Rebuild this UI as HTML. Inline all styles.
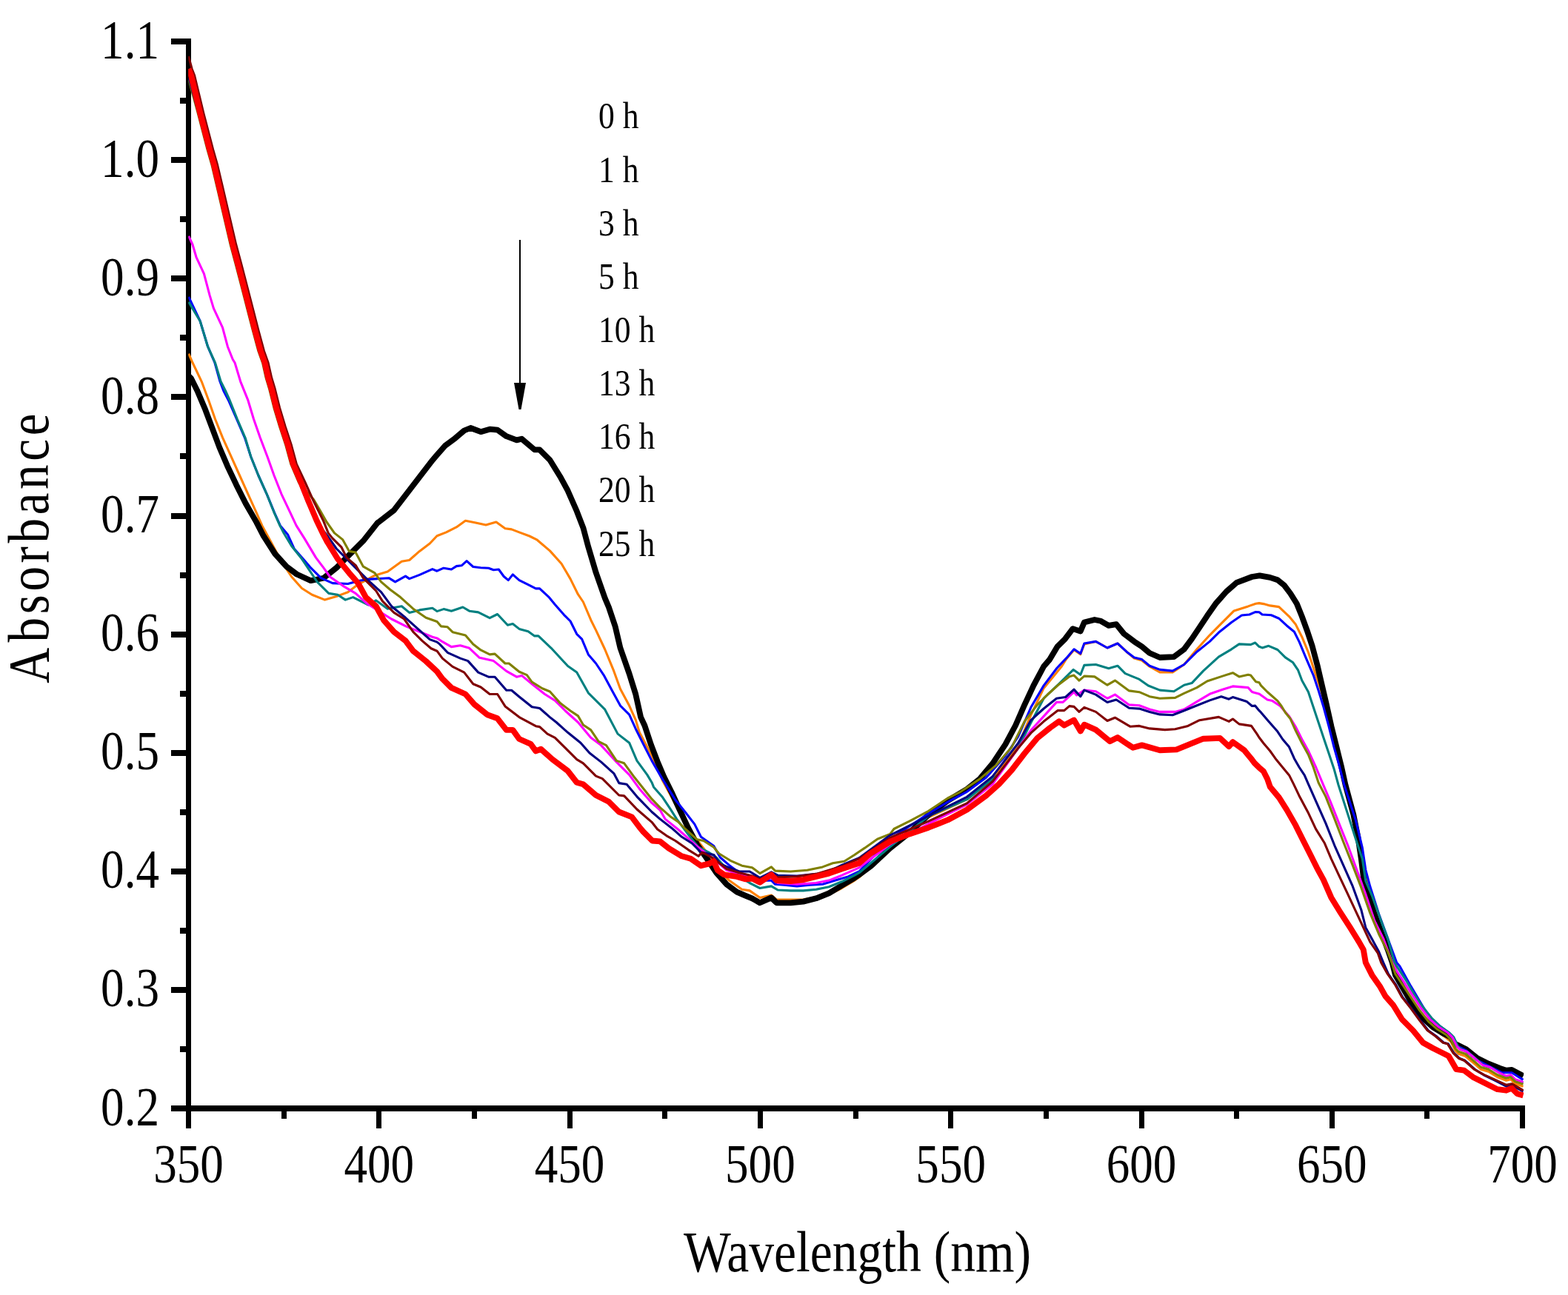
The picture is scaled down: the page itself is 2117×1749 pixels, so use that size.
<!DOCTYPE html>
<html><head><meta charset="utf-8"><title>Absorbance spectra</title>
<style>html,body{margin:0;padding:0;background:#fff;overflow:hidden}svg{display:block}</style>
</head><body>
<svg width="2117" height="1749" viewBox="0 0 2117 1749">
<rect width="2117" height="1749" fill="#fff"/>
<defs><clipPath id="pa"><rect x="254.2" y="0" width="1803" height="1497"/></clipPath></defs>
<rect x="251" y="52" width="7" height="1449" fill="#000"/>
<rect x="251" y="1493" width="1808" height="8" fill="#000"/>
<rect x="231" y="1493" width="22" height="8" fill="#000"/>
<rect x="243" y="1413" width="10" height="8" fill="#000"/>
<rect x="231" y="1333" width="22" height="8" fill="#000"/>
<rect x="243" y="1253" width="10" height="8" fill="#000"/>
<rect x="231" y="1173" width="22" height="8" fill="#000"/>
<rect x="243" y="1093" width="10" height="8" fill="#000"/>
<rect x="231" y="1013" width="22" height="8" fill="#000"/>
<rect x="243" y="933" width="10" height="8" fill="#000"/>
<rect x="231" y="853" width="22" height="8" fill="#000"/>
<rect x="243" y="773" width="10" height="8" fill="#000"/>
<rect x="231" y="693" width="22" height="8" fill="#000"/>
<rect x="243" y="612" width="10" height="8" fill="#000"/>
<rect x="231" y="532" width="22" height="8" fill="#000"/>
<rect x="243" y="452" width="10" height="8" fill="#000"/>
<rect x="231" y="372" width="22" height="8" fill="#000"/>
<rect x="243" y="292" width="10" height="8" fill="#000"/>
<rect x="231" y="212" width="22" height="8" fill="#000"/>
<rect x="243" y="132" width="10" height="8" fill="#000"/>
<rect x="231" y="52" width="22" height="8" fill="#000"/>
<rect x="251" y="1496" width="7" height="28" fill="#000"/>
<rect x="380" y="1496" width="7" height="15" fill="#000"/>
<rect x="508" y="1496" width="7" height="28" fill="#000"/>
<rect x="637" y="1496" width="7" height="15" fill="#000"/>
<rect x="766" y="1496" width="7" height="28" fill="#000"/>
<rect x="894" y="1496" width="7" height="15" fill="#000"/>
<rect x="1023" y="1496" width="7" height="28" fill="#000"/>
<rect x="1152" y="1496" width="7" height="15" fill="#000"/>
<rect x="1280" y="1496" width="7" height="28" fill="#000"/>
<rect x="1409" y="1496" width="7" height="15" fill="#000"/>
<rect x="1538" y="1496" width="7" height="28" fill="#000"/>
<rect x="1666" y="1496" width="7" height="15" fill="#000"/>
<rect x="1795" y="1496" width="7" height="28" fill="#000"/>
<rect x="1923" y="1496" width="7" height="15" fill="#000"/>
<rect x="2052" y="1496" width="7" height="28" fill="#000"/>
<g clip-path="url(#pa)"><g fill="none" stroke-linejoin="round" stroke-linecap="butt" transform="scale(1,1.0)">
<path d="M254.7,477.70 L260.1,490.00 L272.2,515.30 L281.7,540.70 L290.5,566.00 L300.7,591.30 L312.1,616.70 L323.5,642.00 L334.9,667.30 L346.3,692.70 L353.9,709.90 L366.0,732.30 L379.9,758.20 L393.7,779.00 L407.5,794.50 L421.3,803.20 L438.6,810.10 L455.9,804.90 L469.7,799.70 L483.5,789.30 L506.0,777.20 L523.3,772.10 L542.3,758.20 L552.7,756.50 L566.5,744.40 L580.3,734.00 L590.0,723.70 L602.5,718.90 L616.3,711.90 L628.4,703.30 L642.2,705.90 L656.0,709.00 L669.9,705.00 L682.0,713.70 L690.6,714.90 L701.0,718.90 L714.8,724.00 L725.2,729.20 L742.4,743.90 L758.0,761.20 L770.1,781.90 L780.4,802.70 L787.4,813.00 L797.7,837.20 L804.6,851.10 L816.7,877.00 L828.8,906.40 L837.5,930.60 L849.6,953.10 L858.2,972.10 L863.4,989.30 L880.0,1020.40 L894.6,1054.30 L915.3,1092.30 L937.8,1130.30 L956.8,1154.50 L970.6,1175.30 L984.4,1189.10 L1001.7,1201.20 L1012.1,1202.90 L1025.9,1212.40 L1041.4,1209.00 L1048.4,1215.00 L1067.4,1215.00 L1084.6,1215.00 L1101.9,1211.60 L1119.2,1208.10 L1136.5,1199.50 L1153.8,1189.10 L1160.0,1184.80 L1201.8,1145.40 L1253.7,1103.90 L1305.5,1079.70 L1340.1,1050.30 L1374.6,1007.10 L1391.9,965.70 L1409.2,929.40 L1433.4,900.00 L1439.7,889.90 L1450.1,877.80 L1458.8,883.80 L1463.9,870.00 L1479.5,866.40 L1495.0,875.00 L1508.9,869.00 L1521.0,880.20 L1531.3,889.00 L1541.7,892.00 L1552.1,900.20 L1565.9,907.90 L1583.2,907.90 L1598.7,897.50 L1616.0,876.80 L1633.3,857.80 L1645.4,845.70 L1666.1,824.90 L1685.1,818.90 L1695.6,815.30 L1700.0,814.60 L1705.9,815.60 L1714.6,817.90 L1726.7,819.60 L1740.5,832.60 L1749.1,842.90 L1757.8,860.20 L1766.4,881.00 L1775.0,906.90 L1783.7,932.80 L1792.3,967.40 L1801.0,1001.90 L1807.9,1029.60 L1813.1,1053.80 L1827.3,1099.90 L1837.8,1153.80 L1845.3,1189.80 L1855.8,1227.20 L1866.2,1257.20 L1876.7,1284.10 L1883.0,1308.70 L1892.9,1331.90 L1904.8,1349.90 L1916.8,1367.80 L1928.8,1382.80 L1940.8,1393.30 L1952.8,1401.80 L1958.8,1406.80 L1964.7,1418.80 L1969.2,1423.30 L1978.2,1426.20 L1987.2,1433.70 L1999.2,1444.20 L2009.7,1447.20 L2021.7,1454.70 L2033.6,1459.20 L2039.6,1457.70 L2045.6,1463.70 L2056.5,1467.40" stroke="#FF8000" stroke-width="3.1"/>
<path d="M254.0,507.00 L258.0,511.00 L266.5,528.00 L277.2,553.30 L286.7,578.70 L296.2,604.00 L307.0,629.30 L319.0,654.70 L331.7,680.00 L346.3,705.40 L355.7,723.70 L371.2,747.90 L386.8,765.20 L400.6,775.50 L419.6,784.20 L436.9,780.70 L454.2,766.90 L471.4,749.60 L490.4,730.60 L509.5,706.40 L531.9,689.10 L549.2,666.70 L566.5,644.20 L583.8,621.70 L588.6,616.00 L600.7,602.20 L614.6,591.80 L626.7,581.50 L635.3,578.00 L649.1,583.20 L661.2,579.70 L671.6,580.60 L683.7,589.20 L697.5,594.40 L704.4,592.70 L721.7,607.40 L728.6,607.40 L742.4,621.20 L756.3,643.70 L766.6,662.70 L778.7,690.30 L787.4,712.80 L794.3,738.70 L804.6,773.30 L816.7,807.80 L821.9,820.00 L830.6,845.90 L837.5,875.30 L849.6,909.90 L858.2,937.50 L865.1,968.60 L870.4,980.00 L879.0,1005.90 L887.6,1028.40 L896.3,1049.10 L906.7,1069.90 L917.0,1092.30 L929.1,1118.20 L941.2,1140.70 L953.3,1158.00 L967.1,1178.70 L981.0,1194.30 L994.8,1204.60 L1006.9,1209.80 L1015.5,1213.30 L1025.9,1219.30 L1041.4,1212.40 L1048.4,1219.30 L1067.4,1219.30 L1084.6,1217.60 L1101.9,1213.30 L1119.2,1206.40 L1136.5,1196.00 L1153.8,1185.60 L1160.0,1181.30 L1175.9,1169.60 L1201.8,1145.40 L1227.8,1124.60 L1253.7,1100.40 L1279.6,1081.40 L1305.5,1065.90 L1322.8,1052.10 L1340.1,1031.30 L1357.4,1005.40 L1371.2,979.50 L1383.3,951.80 L1395.4,925.90 L1409.2,900.00 L1417.3,890.60 L1427.6,873.30 L1438.0,862.90 L1448.4,849.10 L1458.8,852.60 L1463.9,840.50 L1477.8,837.00 L1486.4,838.80 L1496.8,844.80 L1507.1,843.10 L1517.5,856.00 L1531.3,866.40 L1541.7,873.30 L1552.1,882.00 L1565.9,888.00 L1584.9,887.10 L1598.7,876.80 L1609.1,862.90 L1619.5,847.40 L1629.8,831.80 L1641.9,814.60 L1655.7,799.00 L1669.6,786.90 L1690.4,779.00 L1700.7,777.30 L1714.6,779.90 L1724.9,783.30 L1733.6,790.20 L1742.2,801.50 L1750.8,815.30 L1757.8,832.60 L1764.7,851.60 L1771.6,872.30 L1778.5,898.20 L1783.7,920.70 L1790.6,950.10 L1797.5,981.20 L1804.4,1008.80 L1811.3,1036.50 L1816.5,1060.00 L1827.3,1099.90 L1833.3,1129.90 L1837.8,1159.80 L1841.5,1189.80 L1846.8,1207.70 L1855.8,1234.70 L1864.7,1258.70 L1873.7,1282.60 L1879.7,1300.00 L1883.9,1316.90 L1904.8,1352.90 L1919.8,1373.80 L1934.8,1387.30 L1949.8,1396.30 L1958.8,1400.80 L1964.7,1409.80 L1979.7,1417.30 L1994.7,1429.20 L2009.7,1436.70 L2024.6,1442.70 L2033.6,1445.70 L2041.1,1445.00 L2056.5,1453.20" stroke="#000000" stroke-width="7.8"/>
<path d="M254.7,400.80 L270.2,433.70 L280.6,468.20 L290.0,490.00 L297.0,515.30 L301.9,528.00 L308.5,540.70 L319.5,566.00 L330.5,591.30 L338.7,616.70 L348.8,642.00 L360.2,667.30 L370.6,692.70 L378.4,709.90 L388.5,722.00 L397.1,741.00 L409.2,754.80 L419.6,766.90 L433.4,780.70 L449.0,787.60 L469.7,788.50 L485.3,784.20 L497.4,782.40 L525.0,780.70 L533.6,785.90 L547.5,778.10 L552.7,781.60 L566.5,776.40 L583.8,768.60 L590.0,771.20 L599.0,767.20 L609.4,769.00 L616.3,764.60 L623.2,763.80 L630.1,757.70 L638.8,765.50 L649.1,766.70 L659.5,767.20 L666.4,769.80 L673.3,769.00 L680.2,778.50 L686.3,783.60 L692.3,775.90 L701.0,783.60 L713.1,789.70 L723.4,794.90 L728.6,794.90 L740.7,806.10 L749.3,816.50 L761.4,830.30 L770.1,839.00 L778.7,856.30 L785.6,863.20 L794.3,883.90 L804.6,896.00 L815.0,911.60 L827.1,934.00 L837.5,953.10 L849.6,965.20 L858.2,984.20 L865.1,998.00 L880.0,1027.40 L894.6,1052.60 L911.8,1080.20 L925.7,1097.50 L937.8,1113.10 L946.4,1130.30 L963.7,1142.40 L972.3,1158.00 L984.4,1168.40 L998.2,1178.70 L1015.5,1183.90 L1025.9,1189.10 L1041.4,1189.10 L1046.6,1194.30 L1058.7,1195.10 L1076.0,1196.90 L1093.3,1195.10 L1110.6,1194.30 L1127.8,1189.10 L1145.1,1183.90 L1160.0,1177.00 L1201.8,1133.30 L1253.7,1098.70 L1279.6,1083.20 L1305.5,1069.30 L1331.4,1050.30 L1357.4,1021.00 L1374.6,995.00 L1391.9,955.30 L1409.2,925.90 L1427.0,902.25 L1439.7,888.90 L1450.1,876.80 L1458.8,882.80 L1463.9,869.00 L1479.5,866.40 L1495.0,875.00 L1508.9,869.00 L1521.0,880.20 L1531.3,888.00 L1541.7,890.60 L1552.1,899.20 L1565.9,904.40 L1583.2,906.10 L1598.7,897.50 L1616.0,880.20 L1633.3,866.40 L1645.4,854.30 L1662.7,840.50 L1676.5,831.00 L1686.9,830.00 L1694.7,826.60 L1700.0,826.70 L1704.2,830.00 L1716.3,830.80 L1726.7,835.20 L1737.0,844.70 L1747.4,853.30 L1754.3,867.10 L1762.9,887.90 L1773.3,912.10 L1780.2,932.80 L1787.1,955.30 L1794.1,981.20 L1801.0,1008.80 L1807.9,1033.00 L1814.8,1060.00 L1830.3,1107.40 L1839.3,1144.80 L1843.8,1174.80 L1849.8,1197.30 L1861.7,1234.70 L1873.7,1267.60 L1885.7,1300.00 L1889.9,1304.90 L1904.8,1331.90 L1919.8,1357.30 L1931.8,1376.80 L1949.8,1390.30 L1957.3,1396.30 L1967.7,1412.80 L1979.7,1418.80 L1994.7,1432.20 L2009.7,1439.70 L2027.6,1448.70 L2041.1,1448.70 L2056.5,1458.40" stroke="#0000FF" stroke-width="3.1"/>
<path d="M254.7,407.80 L270.2,433.70 L280.6,468.20 L290.5,490.00 L298.1,515.30 L304.5,528.00 L310.2,540.70 L320.3,566.00 L331.1,591.30 L338.7,616.70 L348.8,642.00 L360.2,667.30 L370.3,692.70 L377.9,709.90 L383.3,720.20 L393.7,737.50 L407.5,754.80 L417.9,770.30 L428.2,785.90 L443.8,801.40 L455.9,803.20 L466.3,810.10 L476.6,806.60 L497.4,817.00 L507.7,810.90 L523.3,822.20 L542.3,818.70 L552.7,827.40 L566.5,823.90 L583.8,821.30 L590.0,825.60 L599.0,822.60 L609.4,825.20 L624.9,820.00 L633.6,825.20 L645.7,826.90 L661.2,834.70 L671.6,829.50 L685.4,844.20 L692.3,842.50 L701.0,849.40 L713.1,852.80 L721.7,858.90 L726.9,858.90 L744.2,875.30 L766.6,899.50 L778.7,908.10 L794.3,935.80 L816.7,958.20 L834.0,991.10 L849.6,1003.20 L859.9,1027.40 L873.8,1046.40 L880.0,1056.70 L882.5,1062.90 L894.6,1076.80 L904.9,1092.30 L913.6,1106.10 L929.1,1126.90 L942.9,1144.20 L956.8,1151.10 L967.1,1158.00 L981.0,1173.50 L998.2,1183.90 L1012.1,1192.50 L1025.9,1199.50 L1041.4,1196.90 L1050.1,1202.00 L1067.4,1202.90 L1084.6,1202.90 L1101.9,1201.20 L1119.2,1197.70 L1136.5,1190.80 L1153.8,1182.20 L1160.0,1178.70 L1201.8,1143.60 L1253.7,1102.20 L1305.5,1079.70 L1348.7,1045.20 L1374.6,1010.60 L1391.9,976.00 L1409.2,943.20 L1430.5,922.95 L1449.2,904.40 L1458.8,911.30 L1463.9,898.40 L1479.5,897.50 L1496.8,902.70 L1508.9,899.20 L1519.2,909.60 L1538.2,917.40 L1550.3,926.00 L1565.9,932.10 L1584.9,933.80 L1598.7,925.20 L1609.1,922.60 L1624.6,906.10 L1645.4,887.10 L1662.7,876.80 L1673.0,869.90 L1688.6,870.60 L1694.7,868.05 L1700.0,873.30 L1704.2,874.90 L1712.8,872.30 L1724.9,877.50 L1735.3,887.90 L1745.7,894.80 L1752.6,905.20 L1757.8,919.00 L1766.4,934.50 L1773.3,955.30 L1780.2,976.00 L1787.1,996.70 L1794.1,1017.50 L1801.0,1038.20 L1807.0,1060.00 L1819.8,1099.90 L1830.3,1132.90 L1839.3,1159.80 L1843.8,1189.80 L1852.8,1210.70 L1864.7,1243.70 L1873.7,1267.60 L1882.7,1300.00 L1889.9,1311.40 L1898.9,1324.90 L1908.8,1341.90 L1920.8,1359.80 L1932.8,1374.80 L1944.8,1386.30 L1956.8,1394.80 L1962.8,1400.80 L1968.7,1413.80 L1973.2,1417.30 L1982.2,1421.20 L1991.2,1428.70 L2003.2,1439.20 L2013.7,1442.20 L2025.7,1449.70 L2033.6,1454.20 L2039.6,1452.70 L2045.6,1458.70 L2056.5,1462.40" stroke="#008080" stroke-width="3.1"/>
<path d="M254.7,318.80 L259.9,330.00 L265.0,347.30 L275.4,369.70 L283.2,399.10 L288.4,416.40 L300.5,442.30 L307.4,468.20 L314.3,485.50 L317.1,490.00 L324.7,515.30 L334.9,540.70 L342.5,566.00 L351.3,591.30 L361.0,616.70 L370.0,642.00 L380.0,667.30 L392.0,692.70 L400.1,709.90 L411.0,727.10 L426.5,753.10 L436.9,766.90 L445.5,779.00 L462.8,791.10 L480.1,801.40 L495.6,815.30 L528.5,836.00 L549.2,846.40 L566.5,853.30 L583.8,860.20 L590.0,861.90 L597.3,866.70 L609.4,873.60 L621.5,871.80 L633.6,875.30 L647.4,888.30 L666.4,892.60 L683.7,906.40 L697.5,914.20 L704.4,912.40 L718.2,923.70 L735.5,937.50 L749.3,946.10 L763.2,960.00 L780.4,975.50 L797.7,996.30 L811.6,1006.60 L832.3,1029.10 L849.6,1046.40 L863.4,1065.40 L880.0,1084.40 L891.1,1094.00 L898.0,1106.10 L915.3,1120.00 L929.1,1132.10 L946.4,1147.60 L963.7,1159.70 L981.0,1175.30 L998.2,1180.40 L1015.5,1185.60 L1025.9,1189.10 L1041.4,1185.60 L1050.1,1192.50 L1076.0,1194.30 L1101.9,1192.50 L1119.2,1189.10 L1136.5,1182.20 L1160.0,1171.80 L1201.8,1140.20 L1253.7,1112.50 L1305.5,1086.60 L1340.1,1059.00 L1374.6,1010.60 L1391.9,986.40 L1409.2,967.40 L1426.5,948.40 L1435.1,948.40 L1450.0,934.60 L1453.6,939.00 L1463.9,932.10 L1479.5,933.80 L1495.0,943.30 L1505.4,938.10 L1524.4,951.90 L1538.2,952.80 L1552.1,958.00 L1565.9,961.40 L1586.6,961.40 L1598.7,958.00 L1616.0,947.60 L1633.3,937.30 L1650.6,931.20 L1664.4,926.90 L1685.1,928.60 L1690.4,934.50 L1693.8,935.50 L1700.3,937.20 L1711.1,944.90 L1718.0,946.60 L1728.4,953.50 L1740.5,967.40 L1749.1,981.20 L1757.8,998.50 L1766.4,1014.00 L1776.8,1036.50 L1785.4,1057.20 L1795.9,1081.90 L1807.8,1111.90 L1819.8,1141.80 L1831.8,1174.80 L1843.8,1207.70 L1855.8,1243.70 L1867.7,1267.60 L1879.7,1300.00 L1886.9,1313.40 L1895.9,1326.90 L1906.8,1343.90 L1918.8,1361.80 L1930.8,1376.80 L1942.8,1387.30 L1954.8,1394.80 L1960.8,1400.80 L1966.7,1412.80 L1971.2,1417.30 L1980.2,1420.20 L1989.2,1427.70 L2001.2,1438.20 L2011.7,1441.20 L2023.7,1448.70 L2033.6,1453.20 L2039.6,1451.70 L2045.6,1457.70 L2056.5,1461.40" stroke="#FF00FF" stroke-width="3.1"/>
<path d="M254.8,107.50 L267.0,152.00 L280.0,202.00 L286.0,223.00 L294.0,257.00 L304.0,300.00 L311.0,330.00 L318.5,358.00 L326.2,387.60 L333.5,416.00 L341.0,445.20 L348.8,474.00 L354.5,490.00 L359.0,510.00 L363.6,525.30 L369.9,550.70 L377.5,576.00 L385.8,601.30 L392.7,626.70 L403.5,652.00 L423.6,674.80 L432.5,690.00 L441.0,705.00 L451.5,719.90 L462.8,728.90 L471.4,744.40 L480.1,746.10 L490.4,765.20 L506.0,773.80 L514.6,785.90 L526.7,796.30 L540.6,806.60 L557.8,822.20 L575.1,834.30 L590.0,839.50 L595.6,845.90 L604.2,846.80 L611.1,853.70 L628.4,858.00 L638.8,870.10 L649.1,877.90 L661.2,883.90 L668.1,883.10 L682.0,896.00 L687.1,896.00 L701.0,907.30 L711.3,911.60 L718.2,921.10 L732.1,929.70 L742.4,934.00 L756.3,949.60 L770.1,960.00 L780.4,966.90 L787.4,979.00 L797.7,985.90 L808.1,1001.40 L818.5,1006.60 L832.3,1027.40 L842.7,1030.80 L856.5,1049.80 L880.0,1079.20 L891.1,1090.60 L904.9,1102.70 L915.3,1109.60 L925.7,1120.00 L941.2,1133.80 L949.9,1135.50 L963.7,1144.20 L970.6,1152.80 L986.1,1162.30 L1001.7,1169.20 L1015.5,1171.80 L1025.9,1179.60 L1041.4,1170.90 L1046.6,1176.10 L1067.4,1177.00 L1089.8,1175.30 L1110.6,1170.90 L1124.4,1165.80 L1139.9,1163.20 L1153.8,1154.50 L1160.0,1150.20 L1167.3,1145.40 L1184.6,1133.30 L1201.8,1126.40 L1207.0,1119.50 L1227.8,1109.10 L1253.7,1095.30 L1279.6,1078.00 L1296.9,1069.30 L1322.8,1052.10 L1345.3,1033.10 L1366.0,1008.90 L1383.3,974.30 L1400.6,951.80 L1414.4,938.00 L1429.9,924.20 L1443.8,913.80 L1450.0,912.10 L1457.0,919.10 L1463.9,913.10 L1477.8,913.90 L1495.0,925.20 L1505.4,919.10 L1524.4,932.90 L1538.2,934.70 L1552.1,940.70 L1565.9,943.30 L1586.6,942.40 L1598.7,936.40 L1616.0,928.60 L1629.8,920.00 L1650.6,913.10 L1664.4,908.70 L1673.0,913.90 L1685.1,911.30 L1688.6,912.10 L1695.6,920.70 L1700.0,921.70 L1702.5,925.90 L1711.1,934.50 L1724.9,946.60 L1730.1,953.50 L1735.3,962.20 L1742.2,970.80 L1749.1,986.40 L1757.8,1003.70 L1766.4,1019.20 L1773.3,1036.50 L1780.2,1057.20 L1789.9,1075.90 L1801.8,1105.90 L1813.8,1137.30 L1825.8,1167.30 L1837.8,1198.80 L1849.8,1233.20 L1861.7,1261.70 L1873.7,1285.60 L1879.0,1300.00 L1883.9,1315.40 L1892.9,1328.90 L1904.8,1346.90 L1916.8,1364.80 L1928.8,1379.80 L1940.8,1390.30 L1952.8,1397.80 L1958.8,1403.80 L1964.7,1415.80 L1969.2,1420.30 L1978.2,1423.20 L1987.2,1430.70 L1999.2,1441.20 L2009.7,1444.20 L2021.7,1451.70 L2033.6,1456.20 L2039.6,1454.70 L2045.6,1460.70 L2056.5,1464.40" stroke="#808000" stroke-width="3.1"/>
<path d="M255.2,105.50 L267.8,152.00 L280.8,202.00 L286.8,223.00 L294.8,257.00 L304.8,300.00 L311.8,330.00 L319.3,358.00 L327.0,387.60 L334.3,416.00 L341.8,445.20 L349.6,474.00 L355.3,490.00 L359.8,510.00 L364.4,525.30 L370.7,550.70 L378.3,576.00 L386.6,601.30 L393.5,626.70 L404.3,652.00 L414.4,677.30 L428.0,706.00 L442.1,723.70 L454.2,741.00 L471.4,758.20 L481.8,768.60 L497.4,784.20 L514.6,799.70 L528.5,818.70 L547.5,834.30 L564.8,849.80 L580.3,863.60 L590.0,867.10 L593.8,870.10 L604.2,881.30 L621.5,889.10 L631.8,892.60 L645.7,908.10 L659.5,914.20 L668.1,914.20 L683.7,932.30 L690.6,932.30 L701.0,941.00 L718.2,954.80 L728.6,956.50 L742.4,968.60 L751.1,975.50 L766.6,989.30 L783.9,1003.20 L796.0,1017.00 L811.6,1029.10 L828.8,1044.60 L835.7,1057.60 L846.1,1059.30 L859.9,1075.80 L880.0,1096.50 L891.1,1106.10 L906.7,1118.20 L920.5,1130.30 L934.3,1139.00 L946.4,1151.10 L963.7,1154.50 L972.3,1166.60 L984.4,1171.80 L998.2,1177.00 L1012.1,1177.00 L1025.9,1185.60 L1041.4,1177.90 L1050.1,1182.20 L1076.0,1183.00 L1101.9,1180.40 L1119.2,1177.00 L1136.5,1168.40 L1160.0,1158.80 L1201.8,1128.10 L1253.7,1102.20 L1305.5,1076.30 L1340.1,1048.60 L1374.6,1003.70 L1391.9,972.60 L1409.2,957.00 L1426.5,943.20 L1438.6,941.50 L1450.0,931.10 L1458.8,940.70 L1463.9,932.10 L1479.5,938.10 L1495.0,948.50 L1507.1,945.00 L1524.4,956.30 L1538.2,957.10 L1552.1,961.40 L1565.9,964.90 L1583.2,965.80 L1598.7,959.70 L1616.0,952.80 L1633.3,945.90 L1648.8,940.70 L1659.2,944.20 L1664.4,941.60 L1683.4,947.60 L1690.4,953.50 L1694.7,953.15 L1700.0,959.70 L1702.5,962.20 L1712.8,974.30 L1724.9,988.10 L1731.8,998.50 L1740.5,1008.80 L1747.4,1024.40 L1754.3,1036.50 L1761.2,1046.90 L1766.4,1058.90 L1777.9,1084.90 L1789.9,1111.90 L1801.8,1141.80 L1813.8,1168.80 L1825.8,1195.80 L1837.8,1228.70 L1843.8,1252.70 L1852.8,1269.10 L1861.7,1285.60 L1867.7,1300.00 L1874.4,1315.40 L1884.9,1330.40 L1893.9,1346.90 L1905.8,1361.80 L1917.8,1378.30 L1928.3,1391.80 L1938.8,1399.30 L1949.3,1408.30 L1955.3,1409.80 L1962.7,1421.80 L1970.2,1429.20 L1977.7,1432.20 L1991.2,1444.20 L2004.7,1452.70 L2018.2,1459.20 L2033.6,1467.20 L2041.1,1465.70 L2056.5,1474.20" stroke="#000080" stroke-width="3.1"/>
<path d="M254.5,76.00 L259.1,93.00 L262.6,102.00 L274.6,152.00 L287.6,202.00 L293.6,223.00 L301.6,257.00 L311.6,300.00 L318.6,330.00 L326.1,358.00 L333.8,387.60 L341.1,416.00 L348.6,445.20 L356.4,474.00 L362.1,490.00 L366.6,510.00 L371.2,525.30 L377.5,550.70 L385.1,576.00 L393.4,601.30 L400.3,626.70 L412.2,652.00 L423.6,677.30 L436.3,702.70 L443.2,719.90 L449.0,727.10 L461.1,739.20 L468.0,753.10 L480.1,763.40 L490.4,780.70 L507.7,798.00 L516.4,811.80 L531.9,827.40 L545.7,836.00 L557.8,853.30 L569.9,865.40 L582.0,875.80 L590.0,879.20 L597.3,889.10 L611.1,900.40 L626.7,908.10 L638.8,923.70 L649.1,928.00 L661.2,937.50 L671.6,937.50 L682.0,953.90 L701.0,968.60 L723.4,980.70 L728.6,981.60 L739.0,991.10 L749.3,996.30 L763.2,1010.10 L778.7,1025.60 L787.4,1030.80 L804.6,1048.10 L813.3,1051.60 L835.7,1074.00 L842.7,1074.90 L859.9,1093.00 L880.0,1110.30 L887.6,1120.00 L899.7,1128.60 L911.8,1135.50 L929.1,1147.60 L942.9,1156.30 L948.1,1151.10 L963.7,1159.70 L981.0,1173.50 L998.2,1178.70 L1015.5,1183.00 L1025.9,1187.40 L1041.4,1180.40 L1050.1,1184.80 L1076.0,1183.90 L1101.9,1180.40 L1119.2,1175.30 L1136.5,1170.10 L1160.0,1159.70 L1201.8,1131.50 L1253.7,1109.10 L1305.5,1084.90 L1340.1,1055.50 L1374.6,1010.60 L1391.9,989.90 L1409.2,974.30 L1428.2,959.60 L1436.8,959.60 L1443.8,953.60 L1450.0,954.40 L1457.0,961.40 L1463.9,955.40 L1479.5,961.40 L1495.0,973.50 L1505.4,969.20 L1526.1,981.30 L1538.2,980.40 L1552.1,983.90 L1572.8,985.60 L1586.6,984.80 L1603.9,980.40 L1619.5,972.70 L1645.4,968.40 L1659.2,974.40 L1664.4,971.00 L1673.0,977.90 L1689.5,980.35 L1697.3,991.60 L1700.0,996.00 L1705.9,1003.70 L1714.6,1014.00 L1723.2,1026.10 L1731.8,1036.50 L1740.5,1046.90 L1746.5,1058.90 L1753.9,1074.40 L1765.9,1096.90 L1776.4,1119.40 L1788.4,1138.80 L1797.3,1159.80 L1807.8,1182.30 L1818.3,1204.70 L1828.8,1227.20 L1839.3,1249.70 L1849.8,1272.10 L1860.2,1287.10 L1864.7,1300.00 L1873.4,1315.40 L1883.9,1330.40 L1892.9,1346.90 L1904.8,1361.80 L1916.8,1378.30 L1927.3,1391.80 L1937.8,1399.30 L1948.3,1408.30 L1954.3,1409.80 L1961.7,1421.80 L1969.2,1429.20 L1976.7,1432.20 L1990.2,1444.20 L2003.7,1451.70 L2017.2,1457.70 L2033.6,1465.20 L2041.1,1463.70 L2056.5,1472.70" stroke="#800000" stroke-width="3.1"/>
<path d="M254.5,93.00 L258.0,102.00 L270.0,152.00 L283.0,202.00 L289.0,223.00 L297.0,257.00 L307.0,300.00 L314.0,330.00 L321.5,358.00 L329.2,387.60 L336.5,416.00 L344.0,445.20 L351.8,474.00 L357.5,490.00 L362.0,510.00 L366.6,525.30 L372.9,550.70 L380.5,576.00 L388.8,601.30 L395.7,626.70 L406.5,652.00 L416.6,677.30 L427.4,702.70 L435.6,719.90 L442.1,732.30 L455.9,754.80 L471.4,773.80 L483.5,787.60 L493.9,806.60 L507.7,818.70 L518.1,837.70 L531.9,853.30 L547.5,865.40 L557.8,879.20 L575.1,893.00 L590.0,906.90 L597.3,916.80 L609.4,928.90 L628.4,937.50 L640.5,951.30 L657.8,965.20 L671.6,970.30 L683.7,985.90 L692.3,985.90 L701.0,998.00 L716.5,1004.90 L723.4,1014.40 L730.3,1011.80 L745.9,1025.60 L766.6,1041.20 L778.7,1056.70 L787.4,1059.30 L804.6,1074.00 L821.9,1082.70 L835.7,1096.50 L853.0,1103.40 L863.4,1117.20 L868.6,1123.40 L880.7,1135.50 L891.1,1136.40 L903.2,1145.90 L920.5,1156.30 L932.6,1159.70 L946.4,1169.20 L956.8,1166.60 L963.7,1163.20 L968.9,1175.30 L977.5,1181.30 L994.8,1183.90 L1006.9,1187.40 L1015.5,1186.50 L1025.9,1191.70 L1041.4,1181.30 L1048.4,1189.10 L1067.4,1190.00 L1084.6,1188.20 L1101.9,1183.90 L1119.2,1179.60 L1136.5,1173.50 L1160.0,1165.80 L1175.9,1152.30 L1201.8,1136.70 L1227.8,1126.40 L1253.7,1117.70 L1279.6,1107.40 L1305.5,1093.50 L1331.4,1074.50 L1348.7,1059.00 L1366.0,1040.00 L1383.3,1017.50 L1400.6,996.80 L1417.8,982.90 L1429.9,974.30 L1436.8,979.50 L1450.0,972.60 L1458.8,987.40 L1463.9,978.70 L1479.5,985.60 L1498.5,1001.20 L1508.9,996.00 L1529.6,1009.80 L1541.7,1006.40 L1565.9,1013.30 L1588.4,1012.40 L1607.4,1004.60 L1624.6,997.70 L1647.1,996.90 L1659.2,1008.10 L1664.4,1002.10 L1679.9,1013.30 L1690.4,1026.10 L1693.8,1030.60 L1699.5,1036.15 L1705.9,1041.70 L1711.1,1052.00 L1714.8,1062.75 L1727.0,1077.40 L1737.4,1093.90 L1749.4,1114.90 L1759.9,1135.90 L1768.9,1153.80 L1777.9,1171.80 L1786.9,1188.30 L1797.3,1212.20 L1809.3,1231.70 L1822.8,1252.70 L1834.8,1272.10 L1840.8,1282.60 L1843.8,1300.00 L1852.4,1316.90 L1862.9,1331.90 L1870.4,1345.40 L1880.9,1357.30 L1892.9,1376.80 L1907.8,1391.80 L1921.3,1408.30 L1934.8,1415.80 L1949.8,1423.20 L1955.8,1426.20 L1966.2,1444.20 L1976.7,1445.70 L1988.7,1454.70 L2006.7,1463.70 L2021.7,1471.20 L2033.6,1472.70 L2041.1,1469.70 L2048.6,1477.20 L2056.5,1479.40" stroke="#FF0000" stroke-width="7.9"/>
</g></g>
<rect x="701" y="324" width="2" height="194" fill="#000"/>
<polygon points="694,517 710,517 703.5,553 700.5,553" fill="#000"/>
<g font-family="'Liberation Serif','Times New Roman',serif" fill="#000">
<text transform="translate(215,1519.5) scale(0.846,1)" text-anchor="end" font-size="74.6">0.2</text>
<text transform="translate(215,1359.4) scale(0.846,1)" text-anchor="end" font-size="74.6">0.3</text>
<text transform="translate(215,1199.3) scale(0.846,1)" text-anchor="end" font-size="74.6">0.4</text>
<text transform="translate(215,1039.2) scale(0.846,1)" text-anchor="end" font-size="74.6">0.5</text>
<text transform="translate(215,879.1) scale(0.846,1)" text-anchor="end" font-size="74.6">0.6</text>
<text transform="translate(215,719.0) scale(0.846,1)" text-anchor="end" font-size="74.6">0.7</text>
<text transform="translate(215,558.9) scale(0.846,1)" text-anchor="end" font-size="74.6">0.8</text>
<text transform="translate(215,398.8) scale(0.846,1)" text-anchor="end" font-size="74.6">0.9</text>
<text transform="translate(215,238.7) scale(0.846,1)" text-anchor="end" font-size="74.6">1.0</text>
<text transform="translate(215,78.6) scale(0.846,1)" text-anchor="end" font-size="74.6">1.1</text>
<text transform="translate(254.5,1597) scale(0.846,1)" text-anchor="middle" font-size="74.6">350</text>
<text transform="translate(511.8,1597) scale(0.846,1)" text-anchor="middle" font-size="74.6">400</text>
<text transform="translate(769.1,1597) scale(0.846,1)" text-anchor="middle" font-size="74.6">450</text>
<text transform="translate(1026.4,1597) scale(0.846,1)" text-anchor="middle" font-size="74.6">500</text>
<text transform="translate(1283.7,1597) scale(0.846,1)" text-anchor="middle" font-size="74.6">550</text>
<text transform="translate(1541.0,1597) scale(0.846,1)" text-anchor="middle" font-size="74.6">600</text>
<text transform="translate(1798.3,1597) scale(0.846,1)" text-anchor="middle" font-size="74.6">650</text>
<text transform="translate(2055.6,1597) scale(0.846,1)" text-anchor="middle" font-size="74.6">700</text>
<text transform="translate(1157.5,1717) scale(0.864,1)" text-anchor="middle" font-size="78.2">Wavelength (nm)</text>
<text transform="translate(65,923) rotate(-90) scale(0.847,1)" font-size="79" letter-spacing="5.55">A<tspan dx="3">bsorbance</tspan></text>
<text transform="translate(808,173.3) scale(0.877,1)" font-size="49.7">0 h</text>
<text transform="translate(808,245.5) scale(0.877,1)" font-size="49.7">1 h</text>
<text transform="translate(808,317.6) scale(0.877,1)" font-size="49.7">3 h</text>
<text transform="translate(808,389.8) scale(0.877,1)" font-size="49.7">5 h</text>
<text transform="translate(808,461.9) scale(0.877,1)" font-size="49.7">10 h</text>
<text transform="translate(808,534.0) scale(0.877,1)" font-size="49.7">13 h</text>
<text transform="translate(808,606.2) scale(0.877,1)" font-size="49.7">16 h</text>
<text transform="translate(808,678.4) scale(0.877,1)" font-size="49.7">20 h</text>
<text transform="translate(808,750.5) scale(0.877,1)" font-size="49.7">25 h</text>
</g>
</svg>
</body></html>
